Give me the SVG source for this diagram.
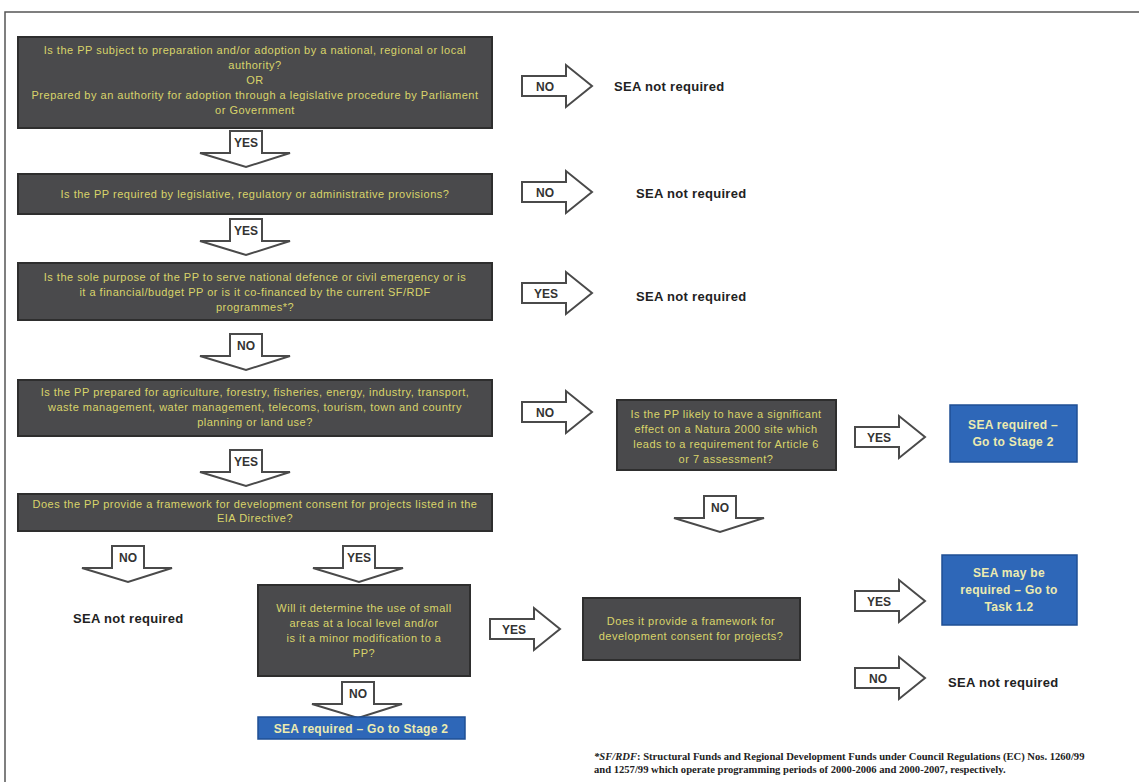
<svg xmlns="http://www.w3.org/2000/svg" width="1139" height="782" viewBox="0 0 1139 782">
<style>
.q{fill:#4a4a4c;stroke:#2e2e2e;stroke-width:2}
.qt{font-family:"Liberation Sans",Arial,sans-serif;font-size:11px;letter-spacing:0.5px;fill:#d9d46a;text-anchor:middle}
.b{fill:#2e67b8;stroke:#1f4f94;stroke-width:1.5}
.bt{font-family:"Liberation Sans",Arial,sans-serif;font-size:12px;letter-spacing:0.3px;font-weight:bold;fill:#ecebb0;text-anchor:middle}
.ar{fill:#fff;stroke:#4a4a4a;stroke-width:2;stroke-linejoin:miter}
.al{font-family:"Liberation Sans",Arial,sans-serif;font-size:12px;font-weight:bold;fill:#333;text-anchor:middle}
.nr{font-family:"Liberation Sans",Arial,sans-serif;font-size:13px;letter-spacing:0.3px;font-weight:bold;fill:#222}
.fn{font-family:"Liberation Serif","Times New Roman",serif;font-size:10.6px;font-weight:bold;fill:#222}
</style>
<defs>
<path id="ra" d="M0,11 H44 V0 L70,21 L44,42 V31 H0 Z"/>
<path id="da" d="M30,0 H62 V22 H90 L46,36 L0,22 H30 Z"/>
</defs>
<rect x="0" y="0" width="1139" height="782" fill="#fff"/>
<path d="M5,782 V12 H1139" fill="none" stroke="#555" stroke-width="1.5"/>

<g id="connectors">
  <g transform="translate(200,131)"><use href="#da" class="ar"/><text x="46" y="16" class="al">YES</text></g>
  <g transform="translate(200,219)"><use href="#da" class="ar"/><text x="46" y="16" class="al">YES</text></g>
  <g transform="translate(200,334)"><use href="#da" class="ar"/><text x="46" y="16" class="al">NO</text></g>
  <g transform="translate(200,450)"><use href="#da" class="ar"/><text x="46" y="16" class="al">YES</text></g>
  <g transform="translate(82,546)"><use href="#da" class="ar"/><text x="46" y="16" class="al">NO</text></g>
  <g transform="translate(313,546)"><use href="#da" class="ar"/><text x="46" y="16" class="al">YES</text></g>
  <g transform="translate(312,682)"><use href="#da" class="ar"/><text x="46" y="16" class="al">NO</text></g>
  <g transform="translate(674,496)"><use href="#da" class="ar"/><text x="46" y="16" class="al">NO</text></g>
  <g transform="translate(522,65)"><use href="#ra" class="ar"/><text x="23" y="25.5" class="al">NO</text></g>
  <g transform="translate(522,171)"><use href="#ra" class="ar"/><text x="23" y="25.5" class="al">NO</text></g>
  <g transform="translate(522,272)"><use href="#ra" class="ar"/><text x="24" y="25.5" class="al">YES</text></g>
  <g transform="translate(522,391)"><use href="#ra" class="ar"/><text x="23" y="25.5" class="al">NO</text></g>
  <g transform="translate(855,416)"><use href="#ra" class="ar"/><text x="24" y="25.5" class="al">YES</text></g>
  <g transform="translate(490,608)"><use href="#ra" class="ar"/><text x="24" y="25.5" class="al">YES</text></g>
  <g transform="translate(855,580)"><use href="#ra" class="ar"/><text x="24" y="25.5" class="al">YES</text></g>
  <g transform="translate(855,657)"><use href="#ra" class="ar"/><text x="23" y="25.5" class="al">NO</text></g>
</g>

<g id="q1">
  <rect x="18" y="37" width="474" height="91" class="q"/>
  <text class="qt" x="255" y="54">Is the PP subject to preparation and/or adoption by a national, regional or local</text>
  <text class="qt" x="255" y="69">authority?</text>
  <text class="qt" x="255" y="84">OR</text>
  <text class="qt" x="255" y="99">Prepared by an authority for adoption through a legislative procedure by Parliament</text>
  <text class="qt" x="255" y="114">or Government</text>
</g>
<g id="q2">
  <rect x="18" y="174" width="474" height="40" class="q"/>
  <text class="qt" x="255" y="198">Is the PP required by legislative, regulatory or administrative provisions?</text>
</g>
<g id="q3">
  <rect x="18" y="263" width="474" height="57" class="q"/>
  <text class="qt" x="255" y="281">Is the sole purpose of the PP to serve national defence or civil emergency or is</text>
  <text class="qt" x="255" y="296">it a financial/budget PP or is it co-financed by the current SF/RDF</text>
  <text class="qt" x="255" y="311">programmes*?</text>
</g>
<g id="q4">
  <rect x="18" y="380" width="474" height="56" class="q"/>
  <text class="qt" x="255" y="396">Is the PP prepared for agriculture, forestry, fisheries, energy, industry, transport,</text>
  <text class="qt" x="255" y="411">waste management, water management, telecoms, tourism, town and country</text>
  <text class="qt" x="255" y="426">planning or land use?</text>
</g>
<g id="q5">
  <rect x="18" y="494" width="474" height="37" class="q"/>
  <text class="qt" x="255" y="508">Does the PP provide a framework for development consent for projects listed in the</text>
  <text class="qt" x="255" y="522">EIA Directive?</text>
</g>
<g id="q6">
  <rect x="258" y="585" width="212" height="91" class="q"/>
  <text class="qt" x="364" y="612">Will it determine the use of small</text>
  <text class="qt" x="364" y="627">areas at a local level and/or</text>
  <text class="qt" x="364" y="642">is it a minor modification to a</text>
  <text class="qt" x="364" y="657">PP?</text>
</g>
<g id="q7">
  <rect x="617" y="400" width="219" height="70" class="q"/>
  <text class="qt" x="726" y="418">Is the PP likely to have a significant</text>
  <text class="qt" x="726" y="433">effect on a Natura 2000 site which</text>
  <text class="qt" x="726" y="448">leads to a requirement for Article 6</text>
  <text class="qt" x="726" y="463">or 7 assessment?</text>
</g>
<g id="q8">
  <rect x="583" y="598" width="217" height="62" class="q"/>
  <text class="qt" x="691" y="625">Does it provide a framework for</text>
  <text class="qt" x="691" y="640">development consent for projects?</text>
</g>

<g id="r1">
  <rect x="950" y="405" width="127" height="57" class="b"/>
  <text class="bt" x="1013" y="429">SEA required –</text>
  <text class="bt" x="1013" y="446">Go to Stage 2</text>
</g>
<g id="r2">
  <rect x="942" y="555" width="135" height="70" class="b"/>
  <text class="bt" x="1009" y="577">SEA may be</text>
  <text class="bt" x="1009" y="594">required – Go to</text>
  <text class="bt" x="1009" y="611">Task 1.2</text>
</g>
<g id="r3">
  <rect x="258" y="717" width="207" height="22" class="b"/>
  <text class="bt" x="361" y="732.5">SEA required – Go to Stage 2</text>
</g>

<g id="n1"><text class="nr" x="614" y="91">SEA not required</text></g>
<g id="n2"><text class="nr" x="636" y="198">SEA not required</text></g>
<g id="n3"><text class="nr" x="636" y="301">SEA not required</text></g>
<g id="n4"><text class="nr" x="73" y="623">SEA not required</text></g>
<g id="n5"><text class="nr" x="948" y="687">SEA not required</text></g>

<g id="footnote">
  <text class="fn" x="594" y="760"><tspan font-style="italic">*SF/RDF</tspan>: Structural Funds and Regional Development Funds under Council Regulations (EC) Nos. 1260/99</text>
  <text class="fn" x="594" y="773">and 1257/99 which operate programming periods of 2000-2006 and 2000-2007, respectively.</text>
</g>
</svg>
